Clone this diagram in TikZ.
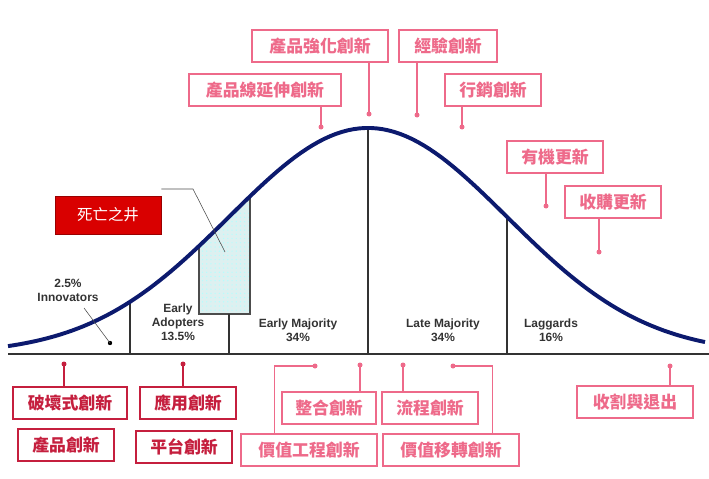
\documentclass[tikz,border=0pt]{standalone}
\usepackage{fontspec}
\setmainfont{Liberation Sans}
\newfontfamily\cjk{Noto Sans CJK TC}
\usetikzlibrary{positioning, calc, patterns}
\definecolor{Rose}{HTML}{EE6A8A}
\definecolor{Crimson}{HTML}{C51F3E}
\definecolor{Curve}{HTML}{0C1A6E}
\definecolor{Well}{HTML}{DDF0F0}

\begin{document}
\begin{tikzpicture}[
    x=0.025cm, y=-0.025cm,
    declare function={bell(\t)=354-226*exp(-0.5*((\t-368)/139)^2);},
    tag_rose/.style={
        draw=Rose, thick, fill=white, text=Rose,
        font=\cjk\bfseries\fontsize{12}{14}\selectfont,
        inner sep=0pt, minimum height=0.8cm
    },
    tag_dark/.style={
        tag_rose, draw=Crimson, text=Crimson
    },
    lead_rose/.style={draw=Rose, thick},
    lead_dark/.style={draw=Crimson, thick},
    seg_label/.style={
        align=center,
        font=\bfseries\fontsize{8.5}{10}\selectfont,
        text=black!80
    },
    divider/.style={draw=black!80, thick}
]
\useasboundingbox (0,0) rectangle (709,479);

% =========================
% CURVE AND SEGMENTS
% =========================
\fill[Well] (199,314) -- plot[domain=199:250, samples=20] (\x, {bell(\x)})
    -- (250,314) -- cycle;
\pattern[pattern=dots, pattern color=cyan!30] (199,314)
    -- plot[domain=199:250, samples=20] (\x, {bell(\x)}) -- (250,314) -- cycle;
\draw[black!70, thick] (199,{bell(199)}) -- (199,314) -- (250,314) -- (250,{bell(250)});

\draw[divider] (130,{bell(130)}) -- (130,354);
\draw[divider] (229,314) -- (229,354);
\draw[divider] (368,128) -- (368,354);
\draw[divider] (507,{bell(507)}) -- (507,354);
\draw[draw=black!80, very thick] (8,354) -- (709,354);

\draw[Curve, line width=2.8pt] plot[domain=8:705, samples=120] (\x, {bell(\x)});

% Segment labels
\node[seg_label] (innov) at (68,290) {2.5\%\\Innovators};
\coordinate (innovdot) at (110,343);
\fill (innovdot) circle (2.2);
\draw[black!70] (84,308) -- (innovdot);
\node[seg_label] (early) at (178,322) {Early\\Adopters\\13.5\%};
\node[seg_label] (emaj) at (298,330) {Early Majority\\34\%};
\node[seg_label] (lmaj) at (443,330) {Late Majority\\34\%};
\node[seg_label] (lagg) at (551,330) {Laggards\\16\%};

% Death well
\node[fill=red!85!black, draw=red!60!black, text=white, minimum width=2.65cm,
    minimum height=0.95cm, font=\cjk\fontsize{11}{13}\selectfont] (well) at (108,215) {死亡之井};
\draw[black!70] (well.east |- 0,189) -- (193,189) -- (225,252);

% =========================
% TOP TAGS
% =========================
\node[tag_rose, minimum width=3.4cm] (enhance) at (320,46) {產品強化創新};
\node[tag_rose, minimum width=2.45cm] (experience) at (448,46) {經驗創新};
\node[tag_rose, minimum width=3.8cm] (lineext) at (265,90) {產品線延伸創新};
\node[tag_rose, minimum width=2.4cm] (marketing) at (493,90) {行銷創新};
\node[tag_rose, minimum width=2.4cm] (organic) at (555,157) {有機更新};
\node[tag_rose, minimum width=2.4cm] (acquire) at (613,202) {收購更新};

\coordinate (d1) at (369,114);
\coordinate (d2) at (417,115);
\coordinate (d3) at (321,127);
\coordinate (d4) at (462,127);
\coordinate (d5) at (546,206);
\coordinate (d6) at (599,252);
\foreach \tag/\dot in {enhance/d1, experience/d2, lineext/d3, marketing/d4,
        organic/d5, acquire/d6} {
    \draw[lead_rose] (\dot) -- (\dot |- \tag.south);
    \fill[Rose] (\dot) circle (2.5);
}

% =========================
% BOTTOM TAGS
% =========================
\node[tag_dark, minimum width=2.85cm] (disrupt) at (70,403) {破壞式創新};
\node[tag_dark, minimum width=2.4cm] (product) at (66,445) {產品創新};
\node[tag_dark, minimum width=2.4cm] (apply) at (188,403) {應用創新};
\node[tag_dark, minimum width=2.4cm] (platform) at (184,447) {平台創新};
\node[tag_rose, minimum width=2.35cm] (integrate) at (329,408) {整合創新};
\node[tag_rose, minimum width=3.4cm] (valeng) at (309,450) {價值工程創新};
\node[tag_rose, minimum width=2.4cm] (process) at (430,408) {流程創新};
\node[tag_rose, minimum width=3.4cm] (valshift) at (451,450) {價值移轉創新};
\node[tag_rose, minimum width=2.9cm] (harvest) at (635,402) {收割與退出};

\coordinate (b1) at (64,364);
\coordinate (b2) at (183,364);
\coordinate (b3) at (360,365);
\coordinate (b4) at (403,365);
\coordinate (b5) at (670,366);
\coordinate (b6) at (315,366);
\coordinate (b7) at (453,366);
\foreach \dot/\tag in {b1/disrupt, b2/apply} {
    \draw[lead_dark] (\dot) -- (\dot |- \tag.north);
    \fill[Crimson] (\dot) circle (2.5);
}
\foreach \dot/\tag in {b3/integrate, b4/process, b5/harvest} {
    \draw[lead_rose] (\dot) -- (\dot |- \tag.north);
    \fill[Rose] (\dot) circle (2.5);
}
\draw[lead_rose] (b6) -| ($(valeng.north west)+(34,0)$);
\draw[lead_rose] (b7) -| ($(valshift.north east)+(-27,0)$);
\fill[Rose] (b6) circle (2.5);
\fill[Rose] (b7) circle (2.5);

\end{tikzpicture}
\end{document}
